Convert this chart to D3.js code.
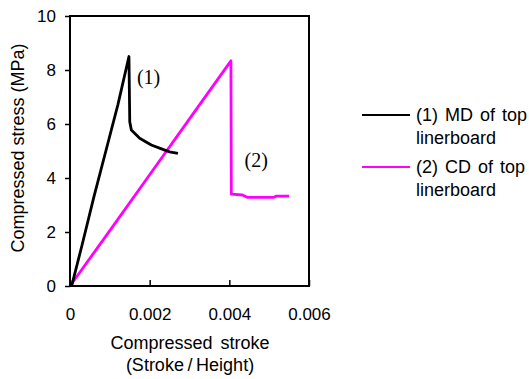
<!DOCTYPE html>
<html>
<head>
<meta charset="utf-8">
<script src="https://cdn.jsdelivr.net/npm/d3@7"></script>
<style>
  body { margin: 0; background: #fff; }
  text { font-family: "Liberation Sans", Arial, sans-serif; fill: #000; }
  text.serif { font-family: "Liberation Serif", "Times New Roman", serif; }
</style>
</head>
<body>
<svg id="chart" width="529" height="379"></svg>
<script>
// (1) MD of top linerboard
const mdStrain = [0, 0.00005, 0.0003, 0.0006, 0.0009, 0.0012, 0.00148, 0.0015, 0.00154, 0.00175, 0.00204, 0.00233, 0.0025, 0.00271];
const mdStress = [0, 0.05, 1.5, 3.3, 5.0, 6.7, 8.5, 6.08, 5.78, 5.47, 5.22, 5.06, 4.97, 4.91];
// (2) CD of top linerboard
const cdStrain = [0, 0.001, 0.002, 0.003, 0.00404, 0.00405, 0.00433, 0.00446, 0.0051, 0.00518, 0.0055];
const cdStress = [0, 2.05, 4.12, 6.19, 8.34, 3.4, 3.37, 3.28, 3.28, 3.33, 3.33];

const xTicks = [0, 0.002, 0.004, 0.006];
const xTickLabels = ['0', '0.002', '0.004', '0.006'];
const yTicks = [0, 2, 4, 6, 8, 10];
const seriesNames = ['(1) MD of top', '(2) CD of top'];
const seriesColors = ['#000000', '#ff00ff'];

const margin = { top: 16, left: 70, right: 309, bottom: 286 };

const svg = d3.select('#chart');

const x = d3.scaleLinear().domain([0, 0.006]).range([margin.left, margin.right]);
const y = d3.scaleLinear().domain([0, 10]).range([margin.bottom, margin.top]);

// series
const line = d3.line()
    .x(d => x(d[0]))
    .y(d => y(d[1]));

const series = [
    d3.zip(mdStrain, mdStress),
    d3.zip(cdStrain, cdStress)
];

// draw CD first so MD sits on top where they cross
[1, 0].forEach(i => {
    svg.append('path')
        .datum(series[i])
        .attr('fill', 'none')
        .attr('stroke', seriesColors[i])
        .attr('stroke-width', 2.8)
        .attr('stroke-linejoin', 'round')
        .attr('d', line);
});

// x axis, ticks pointing inward
svg.append('g')
    .attr('transform', `translate(0, ${margin.bottom})`)
    .call(d3.axisBottom(x).tickValues(xTicks).tickSize(-6).tickPadding(22)
        .tickFormat((d, i) => xTickLabels[i]))
    .call(g => g.select('.domain').remove())
    .call(g => g.selectAll('line').attr('stroke-width', 1.5))
    .call(g => g.selectAll('text').attr('font-size', 17));

// y axis, ticks pointing outward
svg.append('g')
    .attr('transform', `translate(${margin.left}, 0)`)
    .call(d3.axisLeft(y).tickValues(yTicks).tickSize(5).tickPadding(9))
    .call(g => g.select('.domain').remove())
    .call(g => g.selectAll('line').attr('stroke-width', 1.5))
    .call(g => g.selectAll('text').attr('font-size', 17));

// frame
svg.append('rect')
    .attr('x', margin.left)
    .attr('y', margin.top)
    .attr('width', margin.right - margin.left)
    .attr('height', margin.bottom - margin.top)
    .attr('fill', 'none')
    .attr('stroke', '#000')
    .attr('stroke-width', 2);

// curve labels
svg.append('text')
    .attr('class', 'serif')
    .attr('x', x(0.00168)).attr('y', y(7.5))
    .attr('font-size', 20)
    .text('(1)');
svg.append('text')
    .attr('class', 'serif')
    .attr('x', x(0.00438)).attr('y', y(4.4))
    .attr('font-size', 20)
    .text('(2)');

// axis titles
svg.append('text')
    .attr('text-anchor', 'middle')
    .attr('transform', 'translate(24, 148) rotate(-90)')
    .attr('font-size', 18)
    .text('Compressed stress (MPa)');
svg.append('text')
    .attr('x', 190).attr('y', 349)
    .attr('text-anchor', 'middle')
    .attr('font-size', 18)
    .attr('word-spacing', 3)
    .text('Compressed stroke');
svg.append('text')
    .attr('x', 190).attr('y', 371)
    .attr('text-anchor', 'middle')
    .attr('font-size', 18)
    .text('(Stroke\u2009/\u2009Height)');

// legend
const legend = svg.append('g').attr('transform', 'translate(362, 115)');
seriesNames.forEach((name, i) => {
    const g = legend.append('g').attr('transform', `translate(0, ${i * 52})`);
    g.append('line')
        .attr('x1', 0).attr('x2', 48)
        .attr('y1', 0).attr('y2', 0)
        .attr('stroke', seriesColors[i])
        .attr('stroke-width', 2);
    g.append('text')
        .attr('x', 54).attr('y', 6)
        .attr('font-size', 18)
        .attr('word-spacing', 2)
        .text(name);
    g.append('text')
        .attr('x', 54).attr('y', 29)
        .attr('font-size', 18)
        .text('linerboard');
});
</script>
</body>
</html>
